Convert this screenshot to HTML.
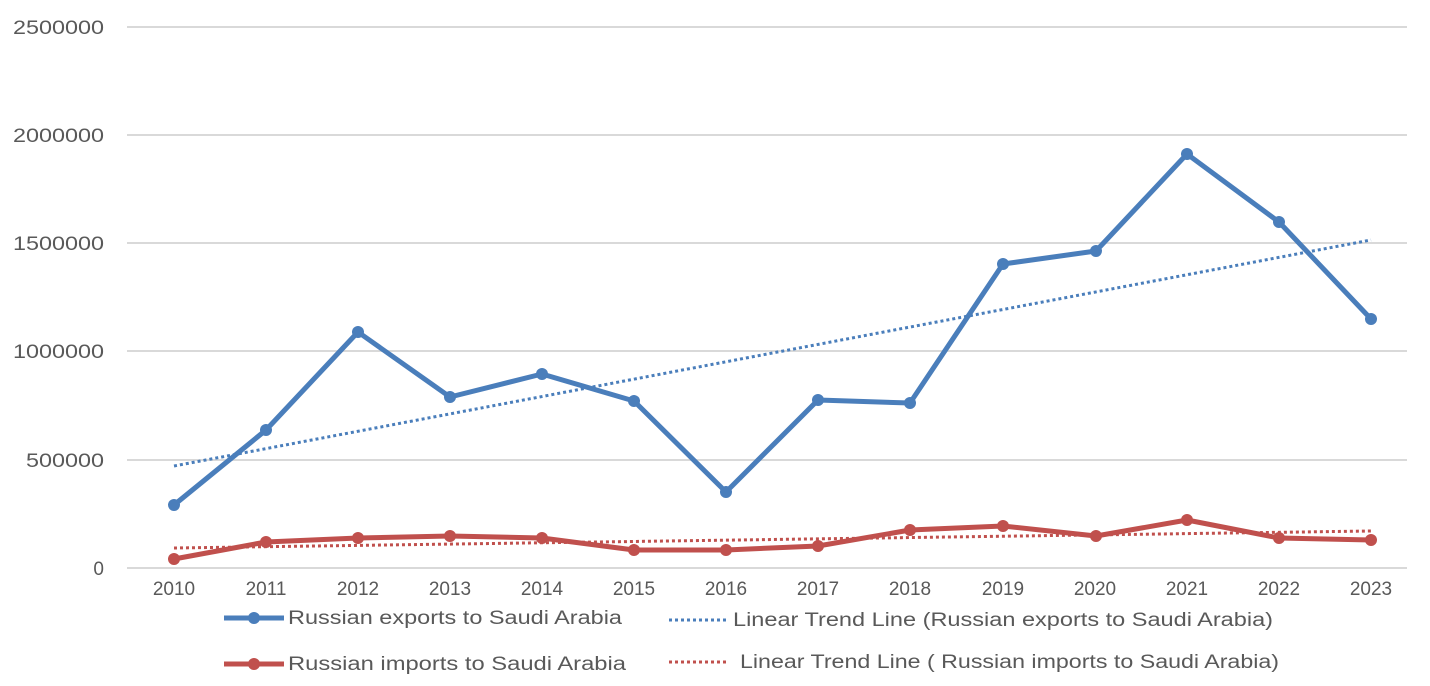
<!DOCTYPE html>
<html><head><meta charset="utf-8"><style>
html,body{margin:0;padding:0;background:#fff;}
svg{display:block;}
text{font-family:"Liberation Sans",sans-serif;fill:#595959;}
</style></head><body>
<svg width="1430" height="686" xmlns="http://www.w3.org/2000/svg">
<g stroke="#d9d9d9" stroke-width="2">
<line x1="127" y1="27" x2="1407" y2="27"/>
<line x1="127" y1="135" x2="1407" y2="135"/>
<line x1="127" y1="243" x2="1407" y2="243"/>
<line x1="127" y1="351" x2="1407" y2="351"/>
<line x1="127" y1="460" x2="1407" y2="460"/>
<line x1="127" y1="568" x2="1407" y2="568"/>
</g>
<g font-size="19" text-anchor="end">
<text x="104" y="34" textLength="91" lengthAdjust="spacingAndGlyphs">2500000</text>
<text x="104" y="142" textLength="91" lengthAdjust="spacingAndGlyphs">2000000</text>
<text x="104" y="250" textLength="91" lengthAdjust="spacingAndGlyphs">1500000</text>
<text x="104" y="358" textLength="91" lengthAdjust="spacingAndGlyphs">1000000</text>
<text x="104" y="467" textLength="78" lengthAdjust="spacingAndGlyphs">500000</text>
<text x="104" y="575">0</text>
</g>
<g font-size="19" text-anchor="middle">
<text x="174" y="595">2010</text><text x="266" y="595">2011</text><text x="358" y="595">2012</text><text x="450" y="595">2013</text><text x="542" y="595">2014</text><text x="634" y="595">2015</text><text x="726" y="595">2016</text><text x="818" y="595">2017</text><text x="910" y="595">2018</text><text x="1003" y="595">2019</text><text x="1095" y="595">2020</text><text x="1187" y="595">2021</text><text x="1279" y="595">2022</text><text x="1371" y="595">2023</text>
</g>
<line x1="174" y1="466" x2="1371" y2="240" stroke="#4a7ebb" stroke-width="3" stroke-dasharray="3,3"/>
<line x1="174" y1="548" x2="1371" y2="531" stroke="#c0504d" stroke-width="3" stroke-dasharray="3,3"/>
<polyline fill="none" stroke="#4a7ebb" stroke-width="5" stroke-linejoin="round" points="174,505 266,430 358,332 450,397 542,374 634,401 726,492 818,400 910,403 1003,264 1096,251 1187,154 1279,222 1371,319"/>
<g fill="#4a7ebb">
<circle cx="174" cy="505" r="6"/><circle cx="266" cy="430" r="6"/><circle cx="358" cy="332" r="6"/><circle cx="450" cy="397" r="6"/><circle cx="542" cy="374" r="6"/><circle cx="634" cy="401" r="6"/><circle cx="726" cy="492" r="6"/><circle cx="818" cy="400" r="6"/><circle cx="910" cy="403" r="6"/><circle cx="1003" cy="264" r="6"/><circle cx="1096" cy="251" r="6"/><circle cx="1187" cy="154" r="6"/><circle cx="1279" cy="222" r="6"/><circle cx="1371" cy="319" r="6"/>
</g>
<polyline fill="none" stroke="#c0504d" stroke-width="5" stroke-linejoin="round" points="174,559 266,542 358,538 450,536 542,538 634,550 726,550 818,546 910,530 1003,526 1096,536 1187,520 1279,538 1371,540"/>
<g fill="#c0504d">
<circle cx="174" cy="559" r="6"/><circle cx="266" cy="542" r="6"/><circle cx="358" cy="538" r="6"/><circle cx="450" cy="536" r="6"/><circle cx="542" cy="538" r="6"/><circle cx="634" cy="550" r="6"/><circle cx="726" cy="550" r="6"/><circle cx="818" cy="546" r="6"/><circle cx="910" cy="530" r="6"/><circle cx="1003" cy="526" r="6"/><circle cx="1096" cy="536" r="6"/><circle cx="1187" cy="520" r="6"/><circle cx="1279" cy="538" r="6"/><circle cx="1371" cy="540" r="6"/>
</g>
<line x1="224" y1="618" x2="284" y2="618" stroke="#4a7ebb" stroke-width="5"/>
<circle cx="254" cy="618" r="6" fill="#4a7ebb"/>
<text x="288" y="624" font-size="19" textLength="334" lengthAdjust="spacingAndGlyphs">Russian exports to Saudi Arabia</text>
<line x1="669" y1="620" x2="729" y2="620" stroke="#4a7ebb" stroke-width="3" stroke-dasharray="3,3"/>
<text x="733" y="626" font-size="19" textLength="540" lengthAdjust="spacingAndGlyphs">Linear Trend Line (Russian exports to Saudi Arabia)</text>
<line x1="224" y1="664" x2="284" y2="664" stroke="#c0504d" stroke-width="5"/>
<circle cx="254" cy="664" r="6" fill="#c0504d"/>
<text x="288" y="670" font-size="19" textLength="338" lengthAdjust="spacingAndGlyphs">Russian imports to Saudi Arabia</text>
<line x1="669" y1="662" x2="729" y2="662" stroke="#c0504d" stroke-width="3" stroke-dasharray="3,3"/>
<text x="740" y="668" font-size="19" textLength="539" lengthAdjust="spacingAndGlyphs">Linear Trend Line ( Russian imports to Saudi Arabia)</text>
</svg>
</body></html>
